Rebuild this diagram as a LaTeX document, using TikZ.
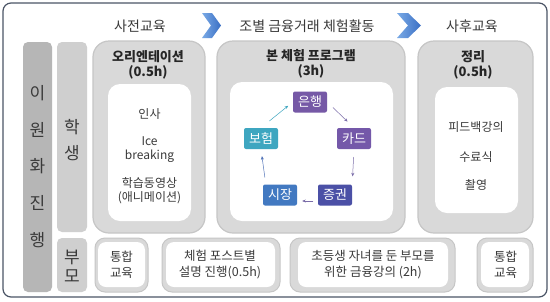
\documentclass[tikz,border=0pt]{standalone}
\usepackage{fontspec}
\setmainfont{Noto Sans CJK KR}
\usetikzlibrary{arrows.meta}
\definecolor{framecol}{HTML}{4B5566}
\definecolor{textcol}{HTML}{3A3A3A}
\definecolor{bardark}{HTML}{B6B6B6}
\definecolor{barlight}{HTML}{CFCFCF}
\definecolor{panelgray}{HTML}{D9D9D9}
\definecolor{paneledge}{HTML}{C6C6C6}
\definecolor{chevleft}{HTML}{7AAAE6}
\definecolor{chevright}{HTML}{3A6FC4}
\definecolor{bankcol}{HTML}{7659A6}
\definecolor{cardcol}{HTML}{7458A9}
\definecolor{stockcol}{HTML}{4B50A6}
\definecolor{marketcol}{HTML}{4279C1}
\definecolor{insurcol}{HTML}{3EA6C0}
\definecolor{arrowcol}{HTML}{7A6CA8}
\begin{document}
\begin{tikzpicture}[x=1pt,y=-1pt,line cap=round,line join=round,
  every node/.style={font=\fontsize{12}{14}\selectfont,text=textcol,align=center},
  headtext/.style={font=\fontsize{14}{16}\selectfont},
  titletext/.style={font=\bfseries\fontsize{13}{15}\selectfont,text=black!85},
  sidetext/.style={font=\fontsize{17}{19}\selectfont},
  bottomtext/.style={font=\fontsize{12.5}{16}\selectfont},
  panel/.style={fill=panelgray,draw=paneledge,line width=1.2pt,rounded corners=16pt},
  inbox/.style={fill=white,rounded corners=12pt},
  smallpanel/.style={fill=panelgray,draw=paneledge,line width=1pt,rounded corners=10pt},
  smallbox/.style={fill=white,rounded corners=8pt},
  stage/.style={minimum width=34pt,minimum height=21pt,inner sep=0pt,rounded corners=2pt,
    text=white,font=\fontsize{13}{15}\selectfont},
  cyc/.style={arrowcol,line width=.5pt,-{Stealth[length=3.5pt,width=3pt]}}]
  \useasboundingbox (0,0) rectangle (550,301);
  % outer frame
  \draw[framecol,line width=1.2pt,rounded corners=8pt,fill=white] (3,3) rectangle (547,297);

  % header with chevrons
  \node[headtext] (pre) at (140,26) {사전교육};
  \node[headtext] (main) at (307,26) {조별 금융거래 체험활동};
  \node[headtext] (post) at (472,26) {사후교육};
  \shade[left color=chevleft,right color=chevright] (202,13)--(212,13)--(221,25.5)--(212,38)--(202,38)--(211,25.5)--cycle;
  \shade[left color=chevleft,right color=chevright] (397,13)--(408,13)--(421,25.5)--(408,38)--(397,38)--(408,25.5)--cycle;

  % side bars
  \fill[bardark,rounded corners=5pt] (23,42) rectangle (52,292);
  \foreach \ch [count=\i] in {이,원,화,진,행}
    \node[sidetext] (side\i) at (37.5,{93+36.75*(\i-1)}) {\ch};
  \fill[barlight,rounded corners=5pt] (57,42) rectangle (87,232);
  \node[sidetext] (stu1) at (72,127) {학};
  \node[sidetext] (stu2) at (72,153) {생};
  \fill[barlight,rounded corners=5pt] (57,238) rectangle (87,292);
  \node[sidetext] (par1) at (72,257) {부};
  \node[sidetext] (par2) at (72,276) {모};

  % orientation
  \draw[panel] (93,41) rectangle (205,233);
  \fill[inbox] (108,84) rectangle (191,221);
  \node[titletext] (oritit) at (148,57) {오리엔테이션};
  \node[titletext] (oritime) at (148,72) {(0.5h)};
  \node (greet) at (149.5,114) {인사};
  \node (ice) at (149.5,150) {Ice\\breaking};
  \node (video) at (149.5,191) {학습동영상\\(애니메이션)};

  % main program
  \draw[panel] (217,41) rectangle (405,233);
  \fill[inbox] (230,82) rectangle (393,221);
  \node[titletext] (maintit) at (311,56) {본 체험 프로그램};
  \node[titletext] (maintime) at (311,71) {(3h)};
  \node[stage,fill=bankcol] (bank) at (310,102) {은행};
  \node[stage,fill=cardcol] (card) at (354,138.5) {카드};
  \node[stage,fill=stockcol] (stock) at (335,195) {증권};
  \node[stage,fill=marketcol] (market) at (280,195) {시장};
  \node[stage,fill=insurcol] (insur) at (261,138.5) {보험};
  \draw[cyc,insurcol,shorten <=11pt,shorten >=6pt] (insur.north) -- (bank.west);
  \draw[cyc,shorten <=8pt,shorten >=9pt] (bank.east) -- (card.north);
  \draw[cyc,shorten <=8pt,shorten >=8pt] (card.south) -- (stock.north east);
  \draw[cyc,shorten <=5pt,shorten >=5pt] ([yshift=-6pt]stock.west) -- ([yshift=-6pt]market.east);
  \draw[cyc,marketcol!70!arrowcol,shorten <=7pt,shorten >=7pt] ([xshift=3pt]market.north west) -- (insur.south);

  % wrap-up
  \draw[panel] (418,41) rectangle (533,233);
  \fill[inbox] (435,87) rectangle (518,213);
  \node[titletext] (endtit) at (473,57) {정리};
  \node[titletext] (endtime) at (473,72) {(0.5h)};
  \node (feedback) at (476,127) {피드백강의};
  \node (ceremony) at (476,157) {수료식};
  \node (photo) at (476,185) {촬영};

  % parents row
  \draw[smallpanel] (95,238) rectangle (148,292);
  \fill[smallbox] (98,242) rectangle (145,287);
  \node[bottomtext] (join1) at (121.5,264.5) {통합\\교육};
  \draw[smallpanel] (162,238) rectangle (280,292);
  \fill[smallbox] (166,242) rectangle (275,287);
  \node[bottomtext] (post1) at (220,264.5) {체험 포스트별\\설명 진행(0.5h)};
  \draw[smallpanel] (290,238) rectangle (455,292);
  \fill[smallbox] (298,242) rectangle (448,287);
  \node[bottomtext] (lecture) at (373,264.5) {초등생 자녀를 둔 부모를\\위한 금융강의 (2h)};
  \draw[smallpanel] (477,238) rectangle (533,292);
  \fill[smallbox] (481,242) rectangle (529,287);
  \node[bottomtext] (join2) at (505.5,264.5) {통합\\교육};
\end{tikzpicture}
\end{document}
